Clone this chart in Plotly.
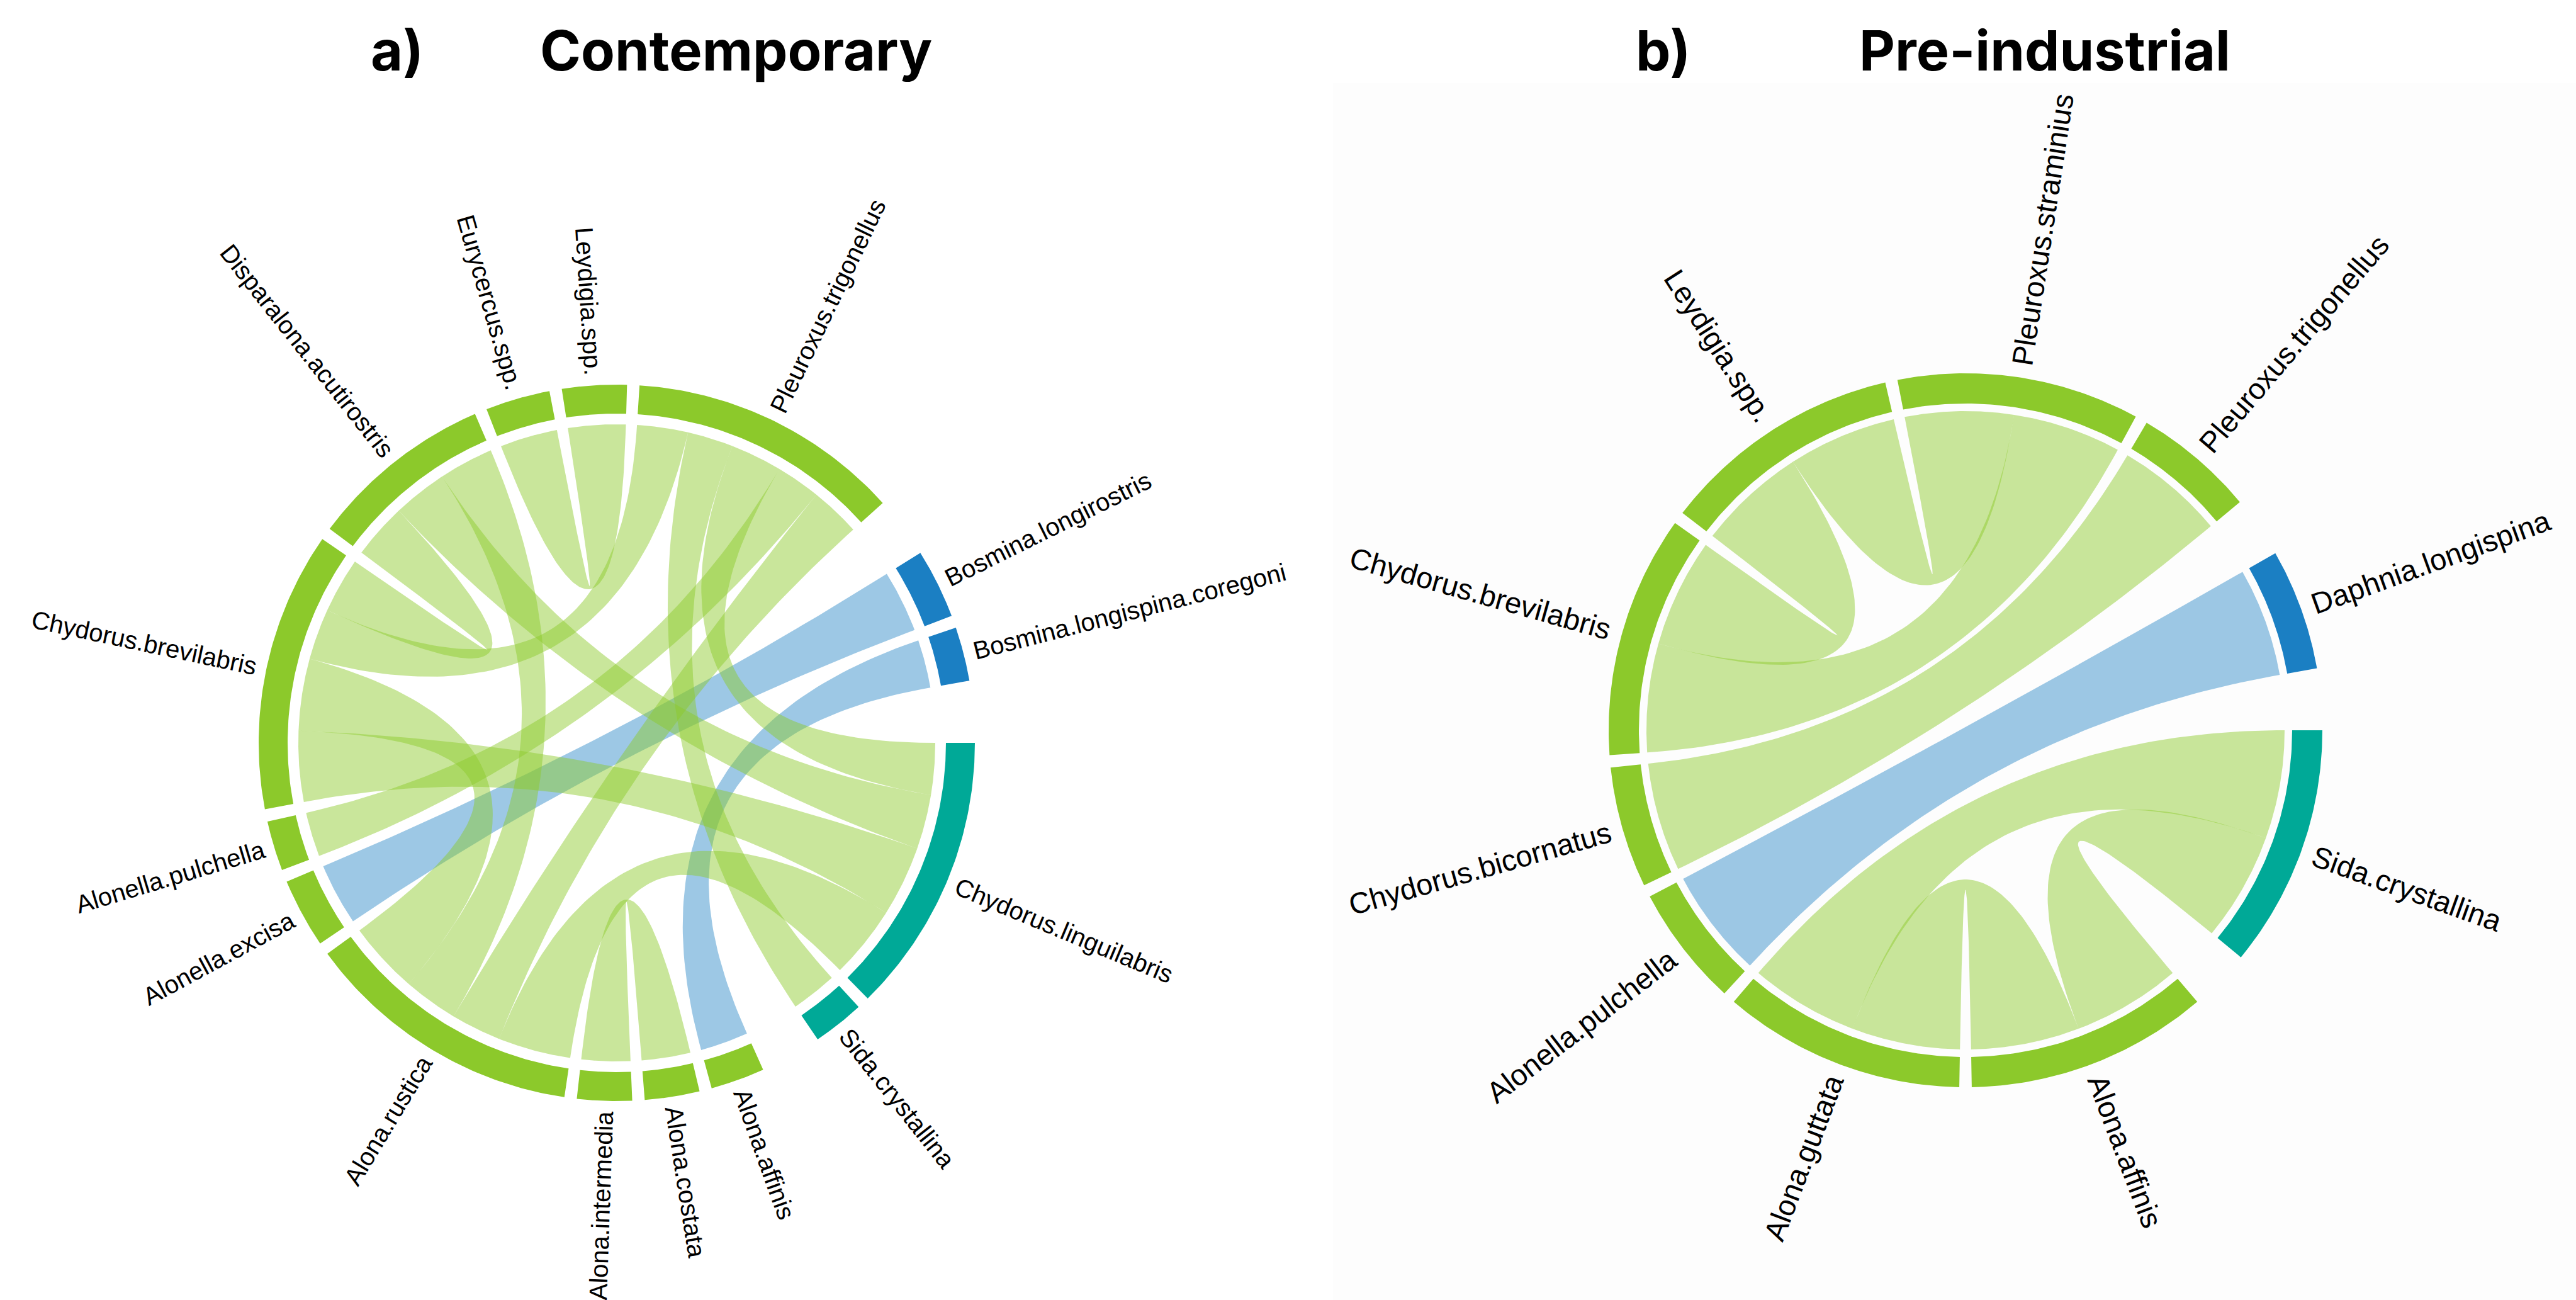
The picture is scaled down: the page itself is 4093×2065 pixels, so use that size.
import numpy as np
import plotly.graph_objects as go

# ---------------- data : a) Contemporary ----------------
sectors_a = ["Chydorus.linguilabris", "Sida.crystallina", "Alona.affinis", "Alona.costata",
             "Alona.intermedia", "Alona.rustica", "Alonella.excisa", "Alonella.pulchella",
             "Chydorus.brevilabris", "Disparalona.acutirostris", "Eurycercus.spp.", "Leydigia.spp.",
             "Pleuroxus.trigonellus", "Bosmina.longirostris", "Bosmina.longispina.coregoni"]
groups_a = ["teal", "teal", "green", "green", "green", "green", "green", "green",
            "green", "green", "green", "green", "green", "blue", "blue"]
big_gap_after_a = ["Sida.crystallina", "Pleuroxus.trigonellus", "Bosmina.longispina.coregoni"]

link_from_a = ["Bosmina.longirostris", "Bosmina.longispina.coregoni", "Eurycercus.spp.",
               "Alona.intermedia", "Disparalona.acutirostris", "Pleuroxus.trigonellus",
               "Pleuroxus.trigonellus", "Pleuroxus.trigonellus", "Pleuroxus.trigonellus",
               "Pleuroxus.trigonellus", "Disparalona.acutirostris", "Disparalona.acutirostris",
               "Chydorus.brevilabris", "Chydorus.brevilabris", "Alona.rustica"]
link_to_a = ["Alonella.excisa", "Alona.affinis", "Leydigia.spp.",
             "Alona.costata", "Chydorus.brevilabris", "Chydorus.brevilabris",
             "Sida.crystallina", "Chydorus.linguilabris", "Alonella.pulchella",
             "Alona.rustica", "Chydorus.linguilabris", "Alona.rustica",
             "Alona.rustica", "Chydorus.linguilabris", "Chydorus.linguilabris"]
link_value_a = [0.85, 0.66, 0.79, 0.67, 0.76, 0.70, 0.63, 0.71, 0.61, 0.69, 0.75, 0.75, 0.99, 0.97, 1.00]

order_a = {
    "Chydorus.linguilabris": ["Pleuroxus.trigonellus", "Disparalona.acutirostris", "Chydorus.brevilabris", "Alona.rustica"],
    "Sida.crystallina": ["Pleuroxus.trigonellus"],
    "Alona.affinis": ["Bosmina.longispina.coregoni"],
    "Alona.costata": ["Alona.intermedia"],
    "Alona.intermedia": ["Alona.costata"],
    "Alona.rustica": ["Chydorus.linguilabris", "Pleuroxus.trigonellus", "Disparalona.acutirostris", "Chydorus.brevilabris"],
    "Alonella.excisa": ["Bosmina.longirostris"],
    "Alonella.pulchella": ["Pleuroxus.trigonellus"],
    "Chydorus.brevilabris": ["Chydorus.linguilabris", "Alona.rustica", "Pleuroxus.trigonellus", "Disparalona.acutirostris"],
    "Disparalona.acutirostris": ["Chydorus.brevilabris", "Chydorus.linguilabris", "Alona.rustica"],
    "Eurycercus.spp.": ["Leydigia.spp."],
    "Leydigia.spp.": ["Eurycercus.spp."],
    "Pleuroxus.trigonellus": ["Chydorus.brevilabris", "Sida.crystallina", "Chydorus.linguilabris", "Alonella.pulchella", "Alona.rustica"],
    "Bosmina.longirostris": ["Alonella.excisa"],
    "Bosmina.longispina.coregoni": ["Alona.affinis"],
}

# ---------------- data : b) Pre-industrial ----------------
sectors_b = ["Sida.crystallina", "Alona.affinis", "Alona.guttata", "Alonella.pulchella",
             "Chydorus.bicornatus", "Chydorus.brevilabris", "Leydigia.spp.",
             "Pleuroxus.straminius", "Pleuroxus.trigonellus", "Daphnia.longispina"]
groups_b = ["teal", "green", "green", "green", "green", "green", "green", "green", "green", "blue"]
big_gap_after_b = ["Sida.crystallina", "Pleuroxus.trigonellus", "Daphnia.longispina"]

link_from_b = ["Daphnia.longispina", "Chydorus.bicornatus", "Chydorus.brevilabris", "Leydigia.spp.",
               "Pleuroxus.straminius", "Sida.crystallina", "Sida.crystallina", "Alona.affinis"]
link_to_b = ["Alonella.pulchella", "Pleuroxus.trigonellus", "Leydigia.spp.", "Pleuroxus.straminius",
             "Chydorus.brevilabris", "Alona.guttata", "Alona.affinis", "Alona.guttata"]
link_value_b = [1, 1, 1, 1, 1, 1, 1, 1]

order_b = {
    "Sida.crystallina": ["Alona.guttata", "Alona.affinis"],
    "Alona.affinis": ["Sida.crystallina", "Alona.guttata"],
    "Alona.guttata": ["Alona.affinis", "Sida.crystallina"],
    "Alonella.pulchella": ["Daphnia.longispina"],
    "Chydorus.bicornatus": ["Pleuroxus.trigonellus"],
    "Chydorus.brevilabris": ["Pleuroxus.straminius", "Leydigia.spp."],
    "Leydigia.spp.": ["Chydorus.brevilabris", "Pleuroxus.straminius"],
    "Pleuroxus.straminius": ["Leydigia.spp.", "Chydorus.brevilabris"],
    "Pleuroxus.trigonellus": ["Chydorus.bicornatus"],
    "Daphnia.longispina": ["Alonella.pulchella"],
}

panel_labels = ["a)", "b)"]
panel_titles = ["Contemporary", "Pre-industrial"]

# ---------------- styling ----------------
RING = {"green": "#8CC92B", "blue": "#1B7FC3", "teal": "#00A997"}
RIBBON = {"green": "rgba(140,201,43,0.47)", "blue": "rgba(27,127,195,0.43)"}

W_ARIAL = {c: 556 for c in "abdeghnopqu"}
W_ARIAL.update({"c": 500, "f": 278, "i": 222, "j": 222, "k": 500, "l": 222, "m": 833, "r": 333,
                "s": 500, "t": 278, "v": 500, "w": 722, "x": 500, "y": 500, "z": 500, ".": 278,
                "A": 667, "B": 667, "C": 722, "D": 722, "E": 667, "L": 556, "P": 667, "S": 667})


def text_width(s, size):
    return sum(W_ARIAL.get(ch, 556) for ch in s) / 1000.0 * size


def layout_chords(sectors, big_after, lf, lt, lv, order, small_gap=2.0, big_gap=10.0, start=0.0):
    val = {}
    for f, t, v in zip(lf, lt, lv):
        val[(f, t)] = v
        val[(t, f)] = v
    totals = {s: sum(val[(s, p)] for p in order[s]) for s in sectors}
    gaps = [big_gap if s in big_after else small_gap for s in sectors]
    unit = (360.0 - sum(gaps)) / sum(totals.values())
    spans, ends = {}, {}
    cur = start
    for s, g in zip(sectors, gaps):
        s0 = cur
        pos = cur
        for p in order[s]:
            w = val[(s, p)] * unit
            ends[(s, p)] = (pos, pos - w)
            pos -= w
        spans[s] = (s0, pos)
        cur = pos - g
    return spans, ends


def pt(cx, cy, r, deg):
    a = np.radians(deg)
    return cx + r * np.cos(a), cy - r * np.sin(a)


def arc(cx, cy, r, d0, d1, n=60):
    d = np.linspace(d0, d1, n)
    x, y = pt(cx, cy, r, d)
    return list(x), list(y)


def bez(p0, p2, c, n=80):
    t = np.linspace(0, 1, n)
    x = (1 - t) ** 2 * p0[0] + 2 * (1 - t) * t * c[0] + t ** 2 * p2[0]
    y = (1 - t) ** 2 * p0[1] + 2 * (1 - t) * t * c[1] + t ** 2 * p2[1]
    return list(x), list(y)


fig = go.Figure()

# very subtle background of panel b
fig.add_shape(type="rect", x0=2118, x1=4093, y0=132, y1=2065, xref="x", yref="y",
              fillcolor="#FDFDFD", line=dict(width=0), layer="below")

panels = [
    dict(sectors=sectors_a, groups=groups_a, big=big_gap_after_a, lf=link_from_a, lt=link_to_a,
         lv=link_value_a, order=order_a, cx=980, cy=1180, r_link=506, r_in=523, r_out=569,
         fsize=40, pad=16),
    dict(sectors=sectors_b, groups=groups_b, big=big_gap_after_b, lf=link_from_b, lt=link_to_b,
         lv=link_value_b, order=order_b, cx=3123, cy=1160, r_link=507, r_in=519, r_out=567,
         fsize=47, pad=20),
]

for P in panels:
    cx, cy = P["cx"], P["cy"]
    spans, ends = layout_chords(P["sectors"], P["big"], P["lf"], P["lt"], P["lv"], P["order"])
    grp = dict(zip(P["sectors"], P["groups"]))
    # ribbons
    for f, t in zip(P["lf"], P["lt"]):
        a1, a2 = ends[(f, t)]
        b1, b2 = ends[(t, f)]
        r = P["r_link"]
        xs, ys = arc(cx, cy, r, a1, a2)
        bx, by = bez(pt(cx, cy, r, a2), pt(cx, cy, r, b1), (cx, cy))
        xs += bx; ys += by
        ax_, ay_ = arc(cx, cy, r, b1, b2)
        xs += ax_; ys += ay_
        bx, by = bez(pt(cx, cy, r, b2), pt(cx, cy, r, a1), (cx, cy))
        xs += bx; ys += by
        col = RIBBON["blue"] if (grp[f] == "blue" or grp[t] == "blue") else RIBBON["green"]
        fig.add_trace(go.Scatter(x=xs, y=ys, mode="lines", fill="toself", fillcolor=col,
                                 line=dict(width=0, color="rgba(0,0,0,0)"), hoverinfo="skip",
                                 showlegend=False))
    # sector rings and labels
    for s in P["sectors"]:
        d0, d1 = spans[s]
        xo, yo = arc(cx, cy, P["r_out"], d0, d1)
        xi, yi = arc(cx, cy, P["r_in"], d1, d0)
        fig.add_trace(go.Scatter(x=xo + xi + [xo[0]], y=yo + yi + [yo[0]], mode="lines",
                                 fill="toself", fillcolor=RING[grp[s]],
                                 line=dict(width=0, color="rgba(0,0,0,0)"), hoverinfo="skip",
                                 showlegend=False))
        mid = (d0 + d1) / 2.0
        mid_n = ((mid + 180) % 360) - 180
        w = text_width(s, P["fsize"])
        lx, ly = pt(cx, cy, P["r_out"] + P["pad"] + w / 2.0, mid)
        if -90 <= mid_n <= 90:
            ang = -mid_n
        else:
            ang = ((180 - mid_n) + 180) % 360 - 180
        fig.add_annotation(x=lx, y=ly, xref="x", yref="y", text=s, showarrow=False,
                           textangle=ang, xanchor="center", yanchor="middle",
                           font=dict(family="Liberation Sans, Arial, sans-serif",
                                     size=P["fsize"], color="black"))

# titles
title_pos = [(587, 856), (2597, 2952)]
for (xl, xt), lab, tit in zip(title_pos, panel_labels, panel_titles):
    for xx, txt in ((xl, lab), (xt, tit)):
        fig.add_annotation(x=xx, y=80, xref="x", yref="y", text="<b>" + txt + "</b>",
                           showarrow=False, xanchor="left", yanchor="middle",
                           font=dict(family="Inter, Lato, sans-serif", size=88, color="black"))

fig.update_layout(
    width=4093, height=2065, margin=dict(l=0, r=0, t=0, b=0),
    paper_bgcolor="white", plot_bgcolor="white", showlegend=False,
    xaxis=dict(range=[0, 4093], visible=False, showgrid=False, zeroline=False, fixedrange=True),
    yaxis=dict(range=[2065, 0], visible=False, showgrid=False, zeroline=False, fixedrange=True),
)

fig.write_html("out.html", config={"displayModeBar": False},
               post_script="document.body.style.margin='0';document.body.style.overflow='hidden';")
